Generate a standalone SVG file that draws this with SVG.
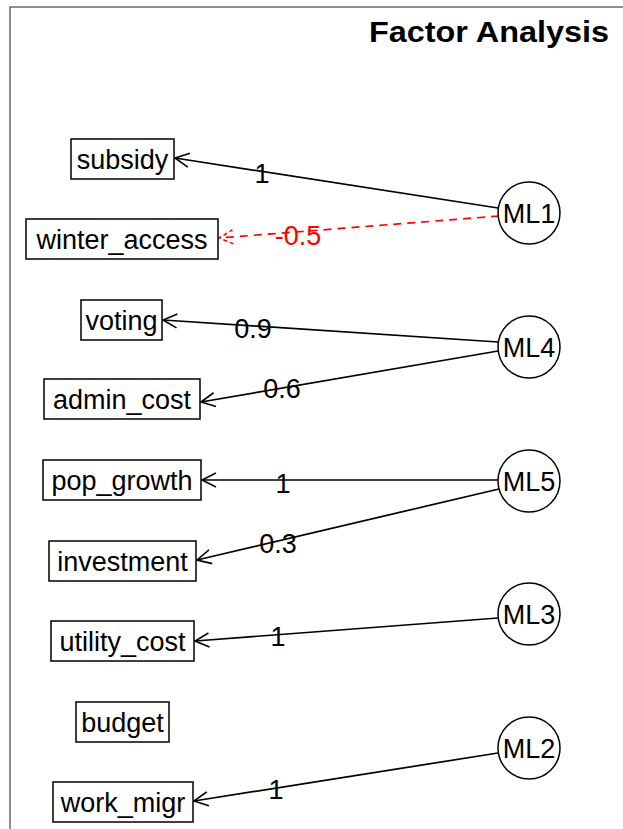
<svg xmlns="http://www.w3.org/2000/svg" width="623" height="829" viewBox="0 0 623 829">
<defs>
<style>
text{font-family:"Liberation Sans",Arial,sans-serif;font-size:27px;fill:#000;text-anchor:middle}
.box{fill:#fff;stroke:#000;stroke-width:1.5}
.lat{fill:#fff;stroke:#000;stroke-width:1.5}
.e{fill:none;stroke:#000;stroke-width:1.7;marker-end:url(#ah)}
.neg{fill:none;stroke:#f00;stroke-width:1.7;stroke-dasharray:8 6;marker-end:url(#ahr)}
.red{fill:#f00}
</style>
<marker id="ah" viewBox="-16 -8 18 16" refX="0" refY="0" markerWidth="18" markerHeight="16" markerUnits="userSpaceOnUse" orient="auto">
<path d="M-14,-7 L0,0 L-14,7" fill="none" stroke="#000" stroke-width="1.6"/>
</marker>
<marker id="ahr" viewBox="-16 -8 18 16" refX="0" refY="0" markerWidth="18" markerHeight="16" markerUnits="userSpaceOnUse" orient="auto">
<path d="M-14,-7 L0,0 L-14,7" fill="none" stroke="#f00" stroke-width="1.6" stroke-dasharray="4 3"/>
</marker>
</defs>
<rect x="0" y="0" width="623" height="829" fill="#fff"/>
<rect x="10" y="7" width="700" height="900" fill="none" stroke="#444" stroke-width="1.2"/>
<text x="489" y="42" style="font-size:29px;font-weight:bold" textLength="240" lengthAdjust="spacingAndGlyphs">Factor Analysis</text>

<g id="connectors">
<line class="e" x1="498" y1="208" x2="175" y2="158"/>
<line class="neg" x1="499" y1="216" x2="219" y2="238"/>
<line class="e" x1="498" y1="342" x2="163" y2="320"/>
<line class="e" x1="498" y1="351" x2="201" y2="402"/>
<line class="e" x1="498" y1="480" x2="202" y2="480"/>
<line class="e" x1="499" y1="489" x2="197" y2="560"/>
<line class="e" x1="498" y1="618" x2="195" y2="641"/>
<line class="e" x1="498" y1="753" x2="194" y2="801"/>
<text x="262" y="182.5">1</text>
<text x="298" y="244.5" class="red">-0.5</text>
<text x="253" y="337.5">0.9</text>
<text x="282" y="397.5">0.6</text>
<text x="283" y="492.5">1</text>
<text x="278" y="552.5">0.3</text>
<text x="278" y="645.5">1</text>
<text x="276" y="798.5">1</text>
</g>

<g id="subsidy"><rect class="box" x="71" y="139" width="103" height="40"/><text x="122.5" y="168.5">subsidy</text></g>
<g id="winter_access"><rect class="box" x="26" y="219" width="192" height="40"/><text x="122" y="248.5">winter_access</text></g>
<g id="voting"><rect class="box" x="81" y="300" width="81" height="40"/><text x="121.5" y="329.5">voting</text></g>
<g id="admin_cost"><rect class="box" x="44" y="379" width="156" height="40"/><text x="122" y="408.5">admin_cost</text></g>
<g id="pop_growth"><rect class="box" x="43" y="460" width="158" height="40"/><text x="122" y="489.5">pop_growth</text></g>
<g id="investment"><rect class="box" x="49" y="541" width="147" height="40"/><text x="122.5" y="570.5">investment</text></g>
<g id="utility_cost"><rect class="box" x="51" y="621" width="143" height="40"/><text x="122.5" y="650.5">utility_cost</text></g>
<g id="budget"><rect class="box" x="76" y="702" width="93" height="40"/><text x="122.5" y="731.5">budget</text></g>
<g id="work_migr"><rect class="box" x="53" y="782" width="140" height="40"/><text x="123" y="811.5">work_migr</text></g>

<g id="ML1"><circle class="lat" cx="529" cy="213" r="31"/><text x="529" y="222.5">ML1</text></g>
<g id="ML4"><circle class="lat" cx="529" cy="347" r="31"/><text x="529" y="356.5">ML4</text></g>
<g id="ML5"><circle class="lat" cx="529" cy="481" r="31"/><text x="529" y="490.5">ML5</text></g>
<g id="ML3"><circle class="lat" cx="529" cy="614" r="31"/><text x="529" y="623.5">ML3</text></g>
<g id="ML2"><circle class="lat" cx="529" cy="748" r="31"/><text x="529" y="757.5">ML2</text></g>
</svg>
